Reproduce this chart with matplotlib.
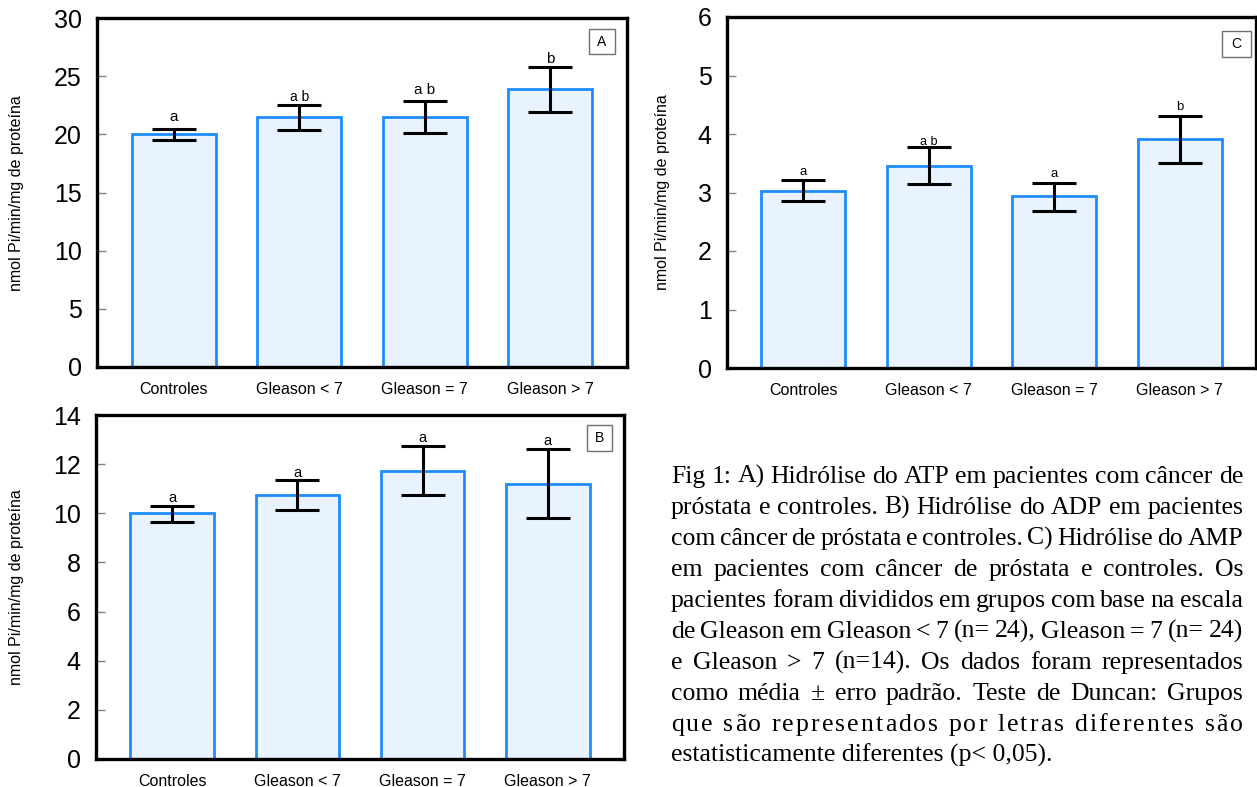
import matplotlib
matplotlib.use('Agg')
import matplotlib.pyplot as plt
from matplotlib.font_manager import FontProperties
from matplotlib.patches import Rectangle

W, H = 1257, 787

# ---------------- data ----------------
categories = ['Controles', 'Gleason < 7', 'Gleason = 7', 'Gleason > 7']

atp_mean = [20.05, 21.5, 21.5, 23.9]
atp_upper = [20.5, 22.55, 22.9, 25.8]
atp_lower = [19.5, 20.4, 20.1, 21.95]
atp_letters = ['a', 'a b', 'a b', 'b']
atp_letter_y = [21.5, 23.2, 23.8, 26.5]

adp_mean = [10.0, 10.73, 11.74, 11.19]
adp_upper = [10.29, 11.37, 12.73, 12.6]
adp_lower = [9.65, 10.13, 10.76, 9.8]
adp_letters = ['a', 'a', 'a', 'a']
adp_letter_y = [10.64, 11.63, 13.08, 12.93]

amp_mean = [3.03, 3.46, 2.94, 3.91]
amp_upper = [3.21, 3.77, 3.17, 4.31]
amp_lower = [2.86, 3.14, 2.69, 3.51]
amp_letters = ['a', 'a b', 'a', 'b']
amp_letter_y = [3.35, 3.87, 3.32, 4.47]

ylabel = 'nmol Pi/min/mg de proteína'

caption_lines = [
    'Fig 1: A) Hidrólise do ATP em pacientes com câncer de',
    'próstata e controles. B) Hidrólise do ADP em pacientes',
    'com câncer de próstata e controles. C) Hidrólise do AMP',
    'em pacientes com câncer de próstata e controles. Os',
    'pacientes foram divididos em grupos com base na escala',
    'de Gleason em Gleason < 7 (n= 24), Gleason = 7 (n= 24)',
    'e Gleason > 7 (n=14). Os dados foram representados',
    'como média ± erro padrão. Teste de Duncan: Grupos',
    'que são representados por letras diferentes são',
    'estatisticamente diferentes (p< 0,05).',
]

# ---------------- style ----------------
plt.rcParams['font.family'] = ['Liberation Sans', 'DejaVu Sans']
FACE = '#E8F3FF'
EDGE = '#1E8CFF'

fig = plt.figure(figsize=(W / 100, H / 100), dpi=100)


def panel(rect_px, means, lower, upper, letters, letter_y, letter_sizes,
          ymax, ystep, tag, tag_px, ylab_px):
    l, t, r, b = rect_px
    ax = fig.add_axes([l / W, 1 - b / H, (r - l) / W, (b - t) / H])
    x = list(range(len(categories)))
    ax.bar(x, means, width=0.67, color=FACE, edgecolor=EDGE,
           linewidth=2.0, zorder=2)
    yerr = [[m - lo for m, lo in zip(means, lower)],
            [hi - m for m, hi in zip(means, upper)]]
    ax.errorbar(x, means, yerr=yerr, fmt='none', ecolor='black',
                elinewidth=2.2, capsize=15.5, capthick=2.2, zorder=3)
    for xi, txt, yy, fs in zip(x, letters, letter_y, letter_sizes):
        ax.text(xi, yy, txt, ha='center', va='center', fontsize=fs,
                color='black', zorder=4)
    ax.set_xlim(-0.61, 3.61)
    ax.set_ylim(0, ymax)
    ax.set_yticks([ystep * k for k in range(int(round(ymax / ystep)) + 1)])
    ax.set_xticks(x)
    ax.set_xticklabels(categories)
    ax.tick_params(axis='y', direction='in', length=6.5, width=1,
                   color='#808080', labelsize=18, pad=11)
    ax.tick_params(axis='x', length=0, labelsize=11.5, pad=10.5)
    for s in ax.spines.values():
        s.set_linewidth(2.4)
        s.set_color('black')
    # panel tag box
    bx0, by0, bx1, by1 = tag_px
    fig.add_artist(Rectangle((bx0 / W, 1 - by1 / H), (bx1 - bx0) / W,
                             (by1 - by0) / H, transform=fig.transFigure,
                             facecolor='white', edgecolor='#707070',
                             linewidth=1.0, zorder=5))
    fig.text((bx0 + bx1) / 2 / W, 1 - (by0 + by1) / 2 / H, tag,
             ha='center', va='center', fontsize=10, zorder=6)
    fig.text(ylab_px[0] / W, 1 - ylab_px[1] / H, ylabel, rotation=90,
             ha='center', va='center', fontsize=11.5)
    return ax


panel((97, 18, 627, 367), atp_mean, atp_lower, atp_upper, atp_letters,
      atp_letter_y, [11, 10, 11, 11], 30, 5, 'A', (589, 29, 615, 54),
      (17, 193))
panel((727, 17, 1256, 368), amp_mean, amp_lower, amp_upper, amp_letters,
      amp_letter_y, [9.5, 9, 9.5, 9.5], 6, 1, 'C', (1222, 31, 1251, 57),
      (662, 192))
panel((96, 415, 624, 759), adp_mean, adp_lower, adp_upper, adp_letters,
      adp_letter_y, [10.5, 10.5, 10.5, 10.5], 14, 2, 'B', (587, 425, 612, 451),
      (17, 587))

# ---------------- caption (justified) ----------------
cap_font = FontProperties(family='Liberation Serif', size=18.5)
renderer = fig.canvas.get_renderer()


def tw(s):
    return renderer.get_text_width_height_descent(s, cap_font, ismath=False)[0]


space_w = tw('a a') - tw('aa')
x0, x1 = 671.0, 1243.0
base0, pitch = 483.0, 31.0
for i, line in enumerate(caption_lines):
    yb = 1 - (base0 + pitch * i) / H
    if i == len(caption_lines) - 1:
        fig.text(x0 / W, yb, line, fontproperties=cap_font,
                 ha='left', va='baseline')
        continue
    words = line.split(' ')
    widths = [tw(w) for w in words]
    natural = sum(widths) + space_w * (len(words) - 1)
    extra_per_gap = ((x1 - x0) - natural) / (len(words) - 1)
    if extra_per_gap > 9.9:
        chars = list(line)
        cw = [space_w if c == ' ' else tw(c) for c in chars]
        gap = ((x1 - x0) - sum(cw)) / (len(chars) - 1)
        x = x0
        for c, w in zip(chars, cw):
            if c != ' ':
                fig.text(x / W, yb, c, fontproperties=cap_font,
                         ha='left', va='baseline')
            x += w + gap
    else:
        gap = ((x1 - x0) - sum(widths)) / (len(words) - 1)
        x = x0
        for w, wd in zip(words, widths):
            fig.text(x / W, yb, w, fontproperties=cap_font,
                     ha='left', va='baseline')
            x += wd + gap

fig.savefig('out.png', dpi=100)
